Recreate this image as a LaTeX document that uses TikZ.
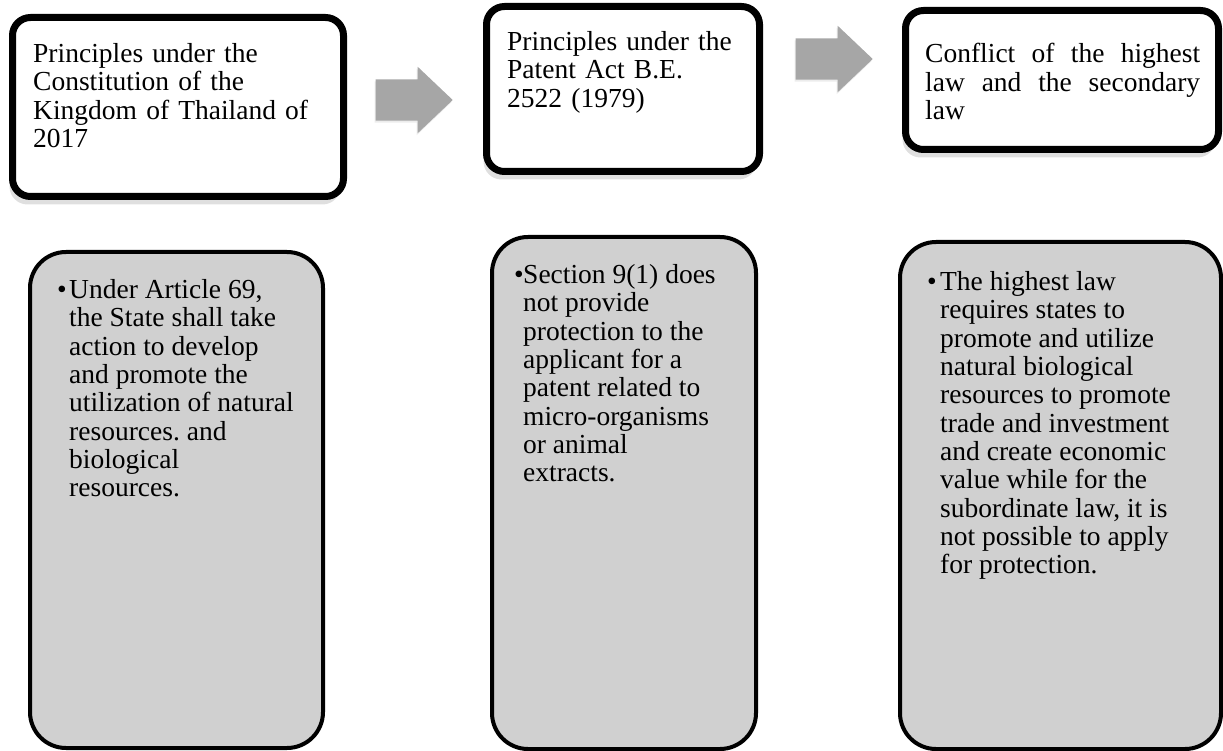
\documentclass[tikz,border=0pt]{standalone}
\usepackage{fontspec}
\setmainfont{Liberation Serif}
\usepackage{xcolor}
\usetikzlibrary{shapes.arrows,shadows}
\definecolor{arrowgray}{RGB}{166,166,166}
\definecolor{boxgray}{RGB}{208,208,208}
\newcommand{\bul}[3]{\makebox[#1][l]{\textbullet}\parbox[t]{#2}{\raggedright #3}}
\tikzset{
    topbox/.style={ % white head boxes, heavy frame
        rectangle,
        fill = white,
        rounded corners=18pt,
        draw=black,
        line width=7pt,
        inner sep=0pt,
        drop shadow={shadow xshift=-3pt, shadow yshift=-8pt, opacity=.25}
        },
    lowbox/.style={ % grey boxes below
        rectangle,
        fill = boxgray,
        rounded corners=36pt,
        draw=black,
        line width=4pt,
        inner sep=0pt
        },
    txt/.style={
        anchor=north west,
        inner sep=0pt,
        align=left,
        font=\fontsize{27.5pt}{28.3pt}\selectfont
        },
    txtj/.style={ %justified version
        txt,
        align=justify
        },
    bultxt/.style={ %bullet text, no align
        anchor=north west,
        inner sep=0pt,
        font=\fontsize{27.5pt}{28.3pt}\selectfont
        },
    blockarr/.style={
        single arrow,
        anchor=tip,
        fill = arrowgray,
        inner xsep=0pt,
        inner ysep=20.5pt,
        minimum height=77pt,
        single arrow head extend=12.5pt,
        single arrow tip angle=87,
        drop shadow={shadow xshift=-1pt, shadow yshift=-2pt, opacity=.15}
        }
}
\begin{document}
\begin{tikzpicture}[x=1pt,y=-1pt]
\useasboundingbox (0,0) rectangle (1223,751);

%%%%% head box 1
\node[topbox, minimum width=331pt, minimum height=179pt] (t1) at (178,107) {};
\node[txt, text width=305pt] (t1txt) at (33,43.4) {Principles under the\\
Constitution of the\\
Kingdom of Thailand of\\
2017};

%%%%% head box 2
\node[topbox, minimum width=273pt, minimum height=165pt] (t2) at (623,89) {};
\node[txt, text width=245pt] (t2txt) at (507,31.4) {Principles under the\\
Patent Act B.E.\\
2522 (1979)};

%%%%% head box 3
\node[topbox, minimum width=313pt, minimum height=139pt] (t3) at (1062,80) {};
\node[txtj, text width=275pt] (t3txt) at (925,43.4) {Conflict of the highest\linebreak
law and the secondary\linebreak
law};

%%%%% arrows between head boxes
\node[blockarr] (a1) at (453,100) {};
\node[blockarr] (a2) at (873,59) {};

%%%%% low box 1
\node[lowbox, minimum width=293pt, minimum height=496pt] (b1) at (176.5,500) {};
\node[bultxt] (b1txt) at (57,279.4) {\bul{12pt}{250pt}{Under Article 69,\\
the State shall take\\
action to develop\\
and promote the\\
utilization of natural\\
resources.\ and\\
biological\\
resources.}};

%%%%% low box 2
\node[lowbox, minimum width=264pt, minimum height=512pt] (b2) at (624,493) {};
\node[bultxt] (b2txt) at (514,264.4) {\bul{9pt}{225pt}{Section 9(1) does\\
not provide\\
protection to the\\
applicant for a\\
patent related to\\
micro-organisms\\
or animal\\
extracts.}};

%%%%% low box 3
\node[lowbox, minimum width=321pt, minimum height=507pt] (b3) at (1060.5,495.5) {};
\node[bultxt] (b3txt) at (927,271.4) {\bul{13pt}{270pt}{The highest law\\
requires states to\\
promote and utilize\\
natural biological\\
resources to promote\\
trade and investment\\
and create economic\\
value while for the\\
subordinate law, it is\\
not possible to apply\\
for protection.}};

\end{tikzpicture}
\end{document}
